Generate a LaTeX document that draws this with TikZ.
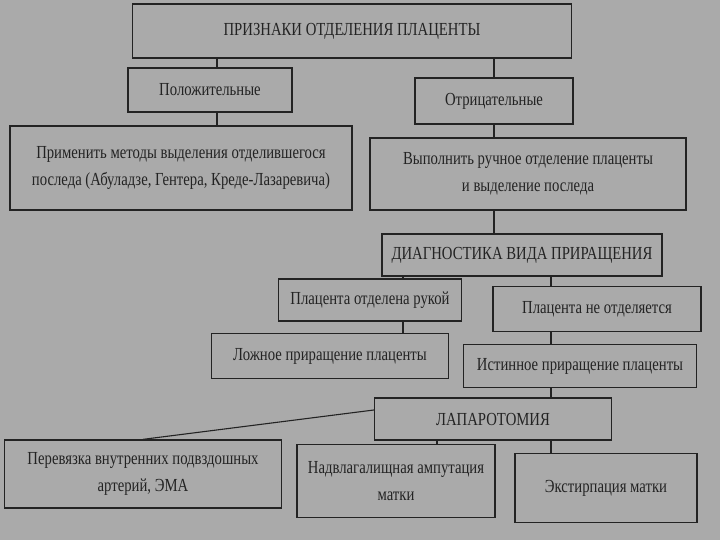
\documentclass[tikz,border=0pt]{standalone}
\usepackage{fontspec}
\setmainfont{Liberation Serif}[FakeStretch=0.8]
\definecolor{paper}{RGB}{170,170,170}
\definecolor{ink}{RGB}{35,35,35}
\tikzset{
  box/.style={draw=ink, line width=1.3pt, text=ink, align=center, inner sep=2pt,
    font=\fontsize{18.4}{27}\selectfont},
  link/.style={draw=ink, line width=1.1pt}
}

\begin{document}
\begin{tikzpicture}[x=1pt,y=-1pt]
\fill[paper] (0,0) rectangle (720,540);
\useasboundingbox (0,0) rectangle (720,540);

\node[box, minimum width=439pt, minimum height=54pt] (title) at (352,31) {ПРИЗНАКИ ОТДЕЛЕНИЯ ПЛАЦЕНТЫ};
\node[box, minimum width=164pt, minimum height=44pt] (pos) at (210,90) {Положительные};
\node[box, minimum width=158pt, minimum height=46pt] (neg) at (494,101) {Отрицательные};
\node[box, minimum width=342pt, minimum height=84pt] (prim) at (181,168)
  {Применить методы выделения отделившегося\\последа (Абуладзе, Гентера, Креде-Лазаревича)};
\node[box, minimum width=316pt, minimum height=72pt] (vyp) at (528,174)
  {Выполнить ручное отделение плаценты\\и выделение последа};
\node[box, minimum width=280pt, minimum height=42pt] (diag) at (522,255) {ДИАГНОСТИКА ВИДА ПРИРАЩЕНИЯ};
\node[box, minimum width=183pt, minimum height=42pt] (sep) at (370,300) {Плацента отделена рукой};
\node[box, minimum width=208pt, minimum height=45pt] (nosep) at (597,309) {Плацента не отделяется};
\node[box, minimum width=237pt, minimum height=45pt] (false) at (330,356) {Ложное приращение плаценты};
\node[box, minimum width=233pt, minimum height=43pt] (true) at (580,366) {Истинное приращение плаценты};
\node[box, minimum width=237pt, minimum height=42pt] (lap) at (493,419) {ЛАПАРОТОМИЯ};
\node[box, minimum width=277pt, minimum height=68pt] (perev) at (143,474)
  {Перевязка внутренних подвздошных\\артерий, ЭМА};
\node[box, minimum width=198pt, minimum height=73pt] (nadv) at (396,481)
  {Надвлагалищная ампутация\\матки};
\node[box, minimum width=182pt, minimum height=69pt] (ext) at (606,488) {Экстирпация матки};

% vertical lines
\coordinate (c1) at (217,0);
\coordinate (c2) at (494,0);
\coordinate (c3) at (403,0);
\coordinate (c4) at (551,0);
\coordinate (c5) at (437,0);

\draw[link] (title.south -| c1) -- (pos.north -| c1);
\draw[link] (pos.south -| c1) -- (prim.north -| c1);
\draw[link] (title.south -| c2) -- (neg.north -| c2);
\draw[link] (neg.south -| c2) -- (vyp.north -| c2);
\draw[link] (vyp.south -| c2) -- (diag.north -| c2);
\draw[link] (diag.south -| c3) -- (sep.north -| c3);
\draw[link] (sep.south -| c3) -- (false.north -| c3);
\draw[link] (diag.south -| c4) -- (nosep.north -| c4);
\draw[link] (nosep.south -| c4) -- (true.north -| c4);
\draw[link] (true.south -| c4) -- (lap.north -| c4);
\draw[link] ([yshift=9pt]lap.west) -- (perev.north);
\draw[link] (lap.south -| c5) -- (nadv.north -| c5);
\draw[link] (lap.south -| c4) -- (ext.north -| c4);
\end{tikzpicture}
\end{document}
